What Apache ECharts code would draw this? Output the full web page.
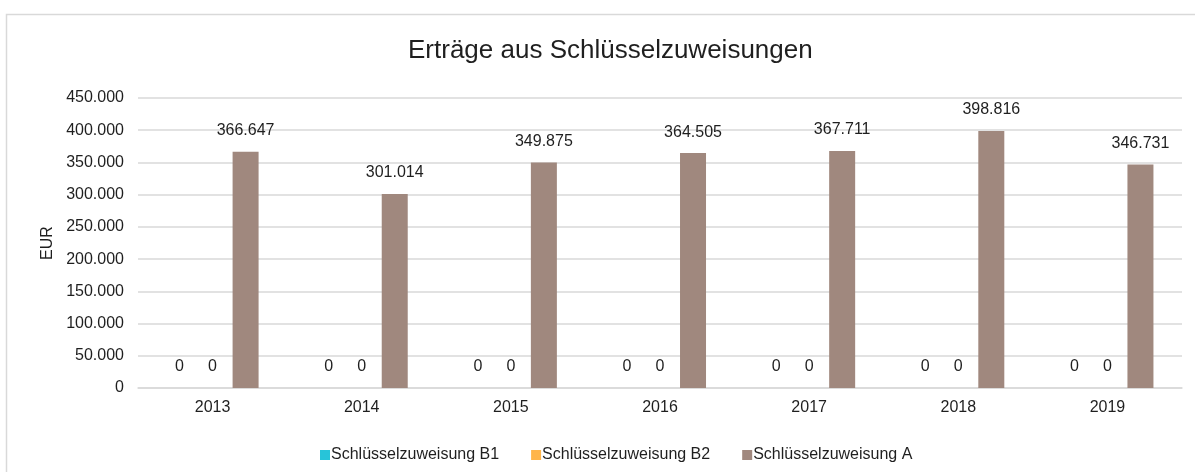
<!DOCTYPE html>
<html>
<head>
    <meta charset="UTF-8">
    <title>Erträge aus Schlüsselzuweisungen</title>
    <script src="https://cdnjs.cloudflare.com/ajax/libs/echarts/6.0.0/echarts.min.js"></script>
    <style>
        body { margin: 0; background: #fff; }
        #chart { width: 1195px; height: 472px; }
    </style>
</head>
<body>
    <div id="chart"></div>
    <script>
        // Daten
        const years = ['2013', '2014', '2015', '2016', '2017', '2018', '2019'];
        const seriesNames = ['Schlüsselzuweisung B1', 'Schlüsselzuweisung B2', 'Schlüsselzuweisung A'];
        const valuesB1 = [0, 0, 0, 0, 0, 0, 0];
        const valuesB2 = [0, 0, 0, 0, 0, 0, 0];
        const valuesA = [366647, 301014, 349875, 364505, 367711, 398816, 346731];
        const colors = ['#27c4d9', '#ffb54a', '#a0887e'];

        // Tausenderpunkt
        function fmt(v) {
            return String(Math.round(v)).replace(/\B(?=(\d{3})+(?!\d))/g, '.');
        }

        const font = 'Liberation Sans, Arial, sans-serif';
        const chart = echarts.init(document.getElementById('chart'));

        function makeSeries(name, data, color) {
            return {
                name: name,
                type: 'bar',
                data: data,
                barWidth: 26,
                barGap: '27%',
                itemStyle: { color: color },
                label: {
                    show: true,
                    position: 'top',
                    distance: 13,
                    color: '#1f1f1f',
                    fontSize: 16,
                    fontFamily: font,
                    formatter: p => fmt(p.value)
                }
            };
        }

        chart.setOption({
            animation: false,
            textStyle: { fontFamily: font },
            graphic: [{
                type: 'rect',
                shape: { x: 6.5, y: 14.5, width: 1300, height: 600 },
                style: { fill: 'none', stroke: '#d9d9d9', lineWidth: 1.5 },
                silent: true
            }],
            title: {
                text: 'Erträge aus Schlüsselzuweisungen',
                left: 403,
                top: 33,
                textStyle: { fontSize: 26, fontWeight: 'normal', color: '#1f1f1f', fontFamily: font }
            },
            legend: {
                left: 315,
                top: 442,
                itemWidth: 10,
                itemHeight: 10,
                itemGap: 32,
                icon: 'rect',
                textStyle: { fontSize: 16, color: '#1f1f1f', fontFamily: font, padding: [0, 0, 0, -4] },
                data: seriesNames
            },
            grid: { left: 138, right: 13, top: 98, bottom: 84 },
            xAxis: {
                type: 'category',
                data: years,
                axisTick: { show: false },
                axisLine: { lineStyle: { color: '#d9d9d9', width: 1.5 } },
                axisLabel: { fontSize: 16, color: '#1f1f1f', margin: 12, fontFamily: font }
            },
            yAxis: {
                type: 'value',
                min: 0,
                max: 450000,
                interval: 50000,
                name: 'EUR',
                nameLocation: 'middle',
                nameGap: 82,
                nameTextStyle: { fontSize: 16, color: '#1f1f1f', fontFamily: font },
                axisLine: { show: false },
                axisTick: { show: false },
                splitLine: { lineStyle: { color: '#d9d9d9', width: 1.5 } },
                axisLabel: { fontSize: 16, color: '#1f1f1f', margin: 14, fontFamily: font, formatter: v => fmt(v) }
            },
            series: [
                makeSeries(seriesNames[0], valuesB1, colors[0]),
                makeSeries(seriesNames[1], valuesB2, colors[1]),
                makeSeries(seriesNames[2], valuesA, colors[2])
            ]
        });
    </script>
</body>
</html>
